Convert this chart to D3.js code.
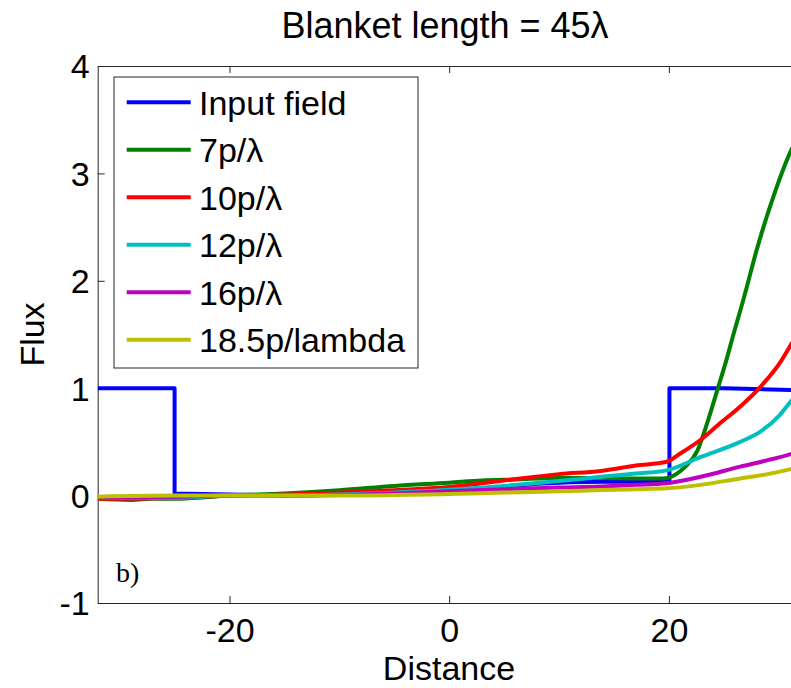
<!DOCTYPE html>
<html>
<head>
<meta charset="utf-8">
<script src="https://cdn.jsdelivr.net/npm/d3@7"></script>
<style>
	body { margin: 0; background: #fff; }
	text { font-family: Arial, "Liberation Sans", sans-serif; }
	text.serif { font-family: "Liberation Serif", "Times New Roman", serif; }
</style>
</head>
<body>
<div id="chart-area"></div>
<script>
// Series data
let seriesNames = ["Input field", "7p/λ", "10p/λ", "12p/λ", "16p/λ", "18.5p/lambda"];
let seriesColors = ["#0000ff", "#008000", "#ff0000", "#00bfbf", "#bf00bf", "#bfbf00"];

let inputX = [-32, -25, -25, -15, -10, -5, 0, 5, 8, 11, 14, 17, 19.9, 20.05, 20.05, 25, 32];
let inputY = [1, 1, 0.02, 0, 0.01, 0.03, 0.05, 0.08, 0.11, 0.125, 0.13, 0.13, 0.13, 0.13, 1.0, 1.0, 0.98];

let greenX = [-32, -29, -27, -25, -20, -15, -10, -5, 0, 3, 6, 10, 14, 17, 19.5, 20.5, 21.5, 22.6, 23.5, 24.4, 25.2, 25.9, 26.8, 28, 29.6, 31.2, 32];
let greenY = [-0.03, -0.04, -0.03, -0.03, 0, 0.02, 0.05, 0.09, 0.12, 0.14, 0.15, 0.165, 0.165, 0.16, 0.16, 0.19, 0.27, 0.42, 0.68, 0.98, 1.25, 1.51, 1.83, 2.29, 2.81, 3.23, 3.38];

let redX = [-32, -25, -20, -15, -10, -5, 0, 5, 10, 13.8, 17, 19.8, 21, 22.9, 24.5, 26.5, 28.4, 30.2, 31.2, 32];
let redY = [-0.03, -0.02, 0, 0.01, 0.03, 0.05, 0.08, 0.14, 0.2, 0.23, 0.28, 0.315, 0.39, 0.52, 0.66, 0.83, 1.02, 1.25, 1.42, 1.55];

let cyanX = [-32, -25, -20, -15, -10, -5, 0, 5, 10, 13.8, 17, 19.8, 22.9, 26.5, 28.4, 30, 31.2, 32];
let cyanY = [-0.02, -0.02, 0, 0, 0.01, 0.03, 0.055, 0.09, 0.135, 0.175, 0.205, 0.235, 0.36, 0.5, 0.6, 0.74, 0.89, 0.98];

let magentaX = [-32, -25, -20, -15, -10, -5, 0, 5, 10, 13.8, 17, 19.8, 22.9, 26.5, 29, 31.2, 32];
let magentaY = [-0.02, -0.01, 0, 0, 0.005, 0.02, 0.04, 0.06, 0.075, 0.085, 0.1, 0.115, 0.175, 0.27, 0.33, 0.39, 0.42];

let yellowX = [-32, -25, -20, -15, -10, -5, 0, 5, 10, 13.8, 17, 19.8, 22.9, 26.5, 29, 31.2, 32];
let yellowY = [-0.01, 0, 0, 0, 0, 0.005, 0.015, 0.028, 0.04, 0.052, 0.06, 0.068, 0.1, 0.16, 0.2, 0.25, 0.27];

let xTicks = [-20, 0, 20];
let yTicks = [-1, 0, 1, 2, 3, 4];

let margin = { left: 97.7, top: 66 };
let width = 703, height = 537;

let svg = d3.select("#chart-area")
	.append("svg")
	.attr("width", 791)
	.attr("height", 688);

let g = svg.append("g")
	.attr("transform", "translate(" + margin.left + "," + margin.top + ")");

// Scales
let x = d3.scaleLinear().domain([-32, 32]).range([0, width]);
let y = d3.scaleLinear().domain([-1, 4]).range([height, 0]);

g.append("clipPath").attr("id", "plot-clip")
	.append("rect").attr("width", width).attr("height", height);

// Axes with inward ticks on every side
let axisColor = "#262626";
let plain = (d) => String(d);

let xAxis = g.append("g")
	.attr("transform", "translate(0," + height + ")")
	.call(d3.axisBottom(x).tickValues(xTicks).tickFormat(plain).tickSizeInner(-7).tickSizeOuter(0).tickPadding(0));
xAxis.selectAll(".tick text").attr("y", 39).attr("dy", 0);

let yAxis = g.append("g")
	.call(d3.axisLeft(y).tickValues(yTicks).tickFormat(plain).tickSizeInner(-7).tickSizeOuter(0).tickPadding(0));
yAxis.selectAll(".tick text").attr("x", -8).attr("dy", "0.35em");

let topAxis = g.append("g")
	.call(d3.axisTop(x).tickValues(xTicks).tickSizeInner(-7).tickSizeOuter(0).tickFormat(""));
let rightAxis = g.append("g")
	.attr("transform", "translate(" + width + ",0)")
	.call(d3.axisRight(y).tickValues(yTicks).tickSizeInner(-7).tickSizeOuter(0).tickFormat(""));

[xAxis, yAxis, topAxis, rightAxis].forEach((a) => {
	a.select(".domain").attr("stroke", axisColor);
	a.selectAll(".tick line").attr("stroke", axisColor);
	a.selectAll(".tick text").attr("font-size", "34px").attr("fill", "#000");
});

// Lines
let line = d3.line().x(d => x(d[0])).y(d => y(d[1]));
let series = [
	[inputX, inputY], [greenX, greenY], [redX, redY],
	[cyanX, cyanY], [magentaX, magentaY], [yellowX, yellowY]
];
let lines = g.append("g").attr("clip-path", "url(#plot-clip)");
series.forEach(([xs, ys], i) => {
	let pts = xs.map((v, j) => [v, ys[j]]);
	lines.append("path")
		.datum(pts)
		.attr("fill", "none")
		.attr("stroke", seriesColors[i])
		.attr("stroke-width", 4)
		.attr("stroke-linejoin", "round")
		.attr("d", line.curve(i === 0 ? d3.curveLinear : d3.curveMonotoneX));
});

// Legend
let legend = svg.append("g").attr("transform", "translate(114,77)");
legend.append("rect")
	.attr("width", 304)
	.attr("height", 291)
	.attr("fill", "#fff")
	.attr("stroke", axisColor);
seriesNames.forEach((name, i) => {
	let row = legend.append("g").attr("transform", "translate(0," + (25.3 + i * 47.5) + ")");
	row.append("line")
		.attr("x1", 12.7).attr("x2", 76.7)
		.attr("stroke", seriesColors[i])
		.attr("stroke-width", 4);
	row.append("text")
		.attr("x", 85)
		.attr("dy", "0.36em")
		.attr("font-size", "34px")
		.text(name);
});

// Labels
svg.append("text")
	.attr("x", 445).attr("y", 38)
	.attr("text-anchor", "middle")
	.attr("font-size", "36px")
	.text("Blanket length = 45λ");

svg.append("text")
	.attr("x", 449).attr("y", 680)
	.attr("text-anchor", "middle")
	.attr("font-size", "34px")
	.text("Distance");

svg.append("text")
	.attr("transform", "translate(44,334.5) rotate(-90)")
	.attr("text-anchor", "middle")
	.attr("font-size", "34px")
	.text("Flux");

svg.append("text")
	.attr("class", "serif")
	.attr("x", 116).attr("y", 582)
	.attr("font-size", "28px")
	.text("b)");
</script>
</body>
</html>
